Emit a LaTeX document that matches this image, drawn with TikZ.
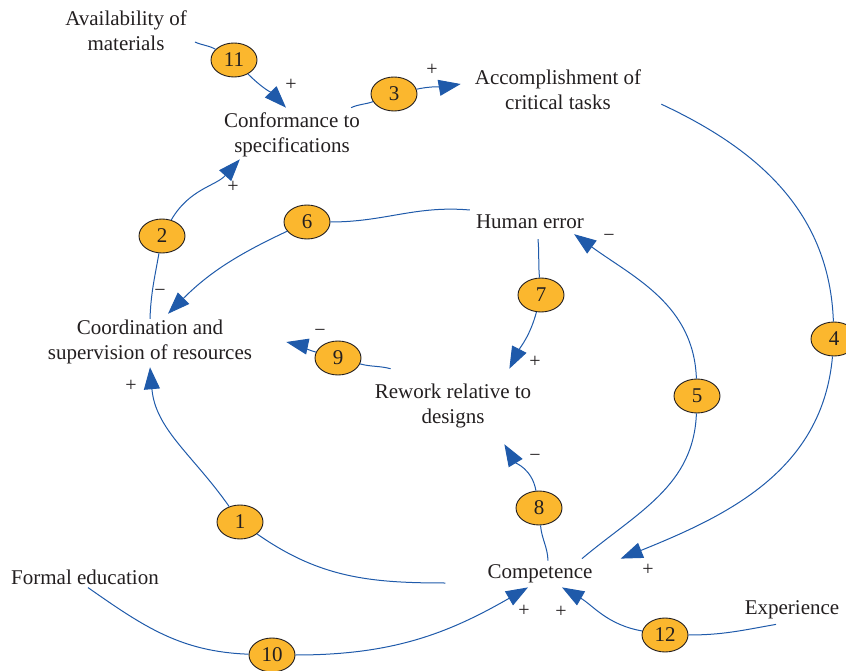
\documentclass[tikz,border=0pt]{standalone}
\usepackage{fontspec}
\setmainfont{Liberation Serif}
\usetikzlibrary{shapes.geometric, arrows.meta}
\definecolor{linkblue}{RGB}{31,90,170}
\definecolor{loopgold}{RGB}{251,183,46}
\definecolor{ink}{RGB}{35,31,32}

\begin{document}
\begin{tikzpicture}[x=1pt, y=1pt,
		v/.style={align=center, inner sep=0pt, text=ink, font=\fontsize{21}{25}\selectfont},
		n/.style={ellipse, draw=ink, line width=0.9pt, fill=loopgold, minimum width=46pt, minimum height=34pt, inner sep=0pt, text=ink, font=\fontsize{21}{25}\selectfont},
		a/.style={draw=linkblue, line width=1pt, -{Triangle[length=22pt, width=16pt]}},
		sg/.style={inner sep=0pt, text=ink, font=\fontsize{20}{20}\selectfont}]
		\useasboundingbox (0,0) rectangle (846,670);

		\node[v] (avail) at (126,639) {Availability of\\materials};
		\node[v] (conf) at (292,535) {Conformance to\\specifications};
		\node[v] (accomp) at (558,580) {Accomplishment of\\critical tasks};
		\node[v] (human) at (530,448) {Human error};
		\node[v] (coord) at (150,328) {Coordination and\\supervision of resources};
		\node[v] (rework) at (453,264) {Rework relative to\\designs};
		\node[v] (comp) at (540,96) {Competence};
		\node[v] (formal) at (85,93) {Formal education};
		\node[v] (exper) at (792,60) {Experience};

		\node[n] (l1) at (240,148) {1};
		\node[n] (l2) at (162,434) {2};
		\node[n] (l3) at (394,576) {3};
		\node[n] (l4) at (834,331) {4};
		\node[n] (l5) at (697,274) {5};
		\node[n] (l6) at (307,448) {6};
		\node[n] (l7) at (541,375) {7};
		\node[n] (l8) at (539,162) {8};
		\node[n] (l9) at (338,312) {9};
		\node[n] (l10) at (272,15) {10};
		\node[n] (l11) at (234,610) {11};
		\node[n] (l12) at (665,35) {12};

		\draw[a] ([shift={(-42,-9)}]comp.west) to[out=180, in=-35] (l1) to[out=125, in=-85] ([shift={(0,-3)}]coord.south);
		\draw[a] ([shift={(0,1)}]coord.north) to[out=88, in=-100] (l2) to[out=60, in=-132] ([shift={(16,-2)}]conf.south west);
		\draw[a] ([shift={(-9,5)}]conf.north east) to[out=25, in=-160] (l3) to[out=12, in=-170] ([shift={(-14,6)}]accomp.west);
		\draw[a] ([shift={(20,6)}]accomp.south east) to[out=-25, in=92] (l4) to[out=-95, in=22] ([shift={(28,6)}]comp.north east);
		\draw[a] ([shift={(42,6)}]comp.north) to[out=40, in=-92] (l5) to[out=92, in=-36] ([shift={(-10,-5)}]human.south east);
		\draw[a] ([shift={(-6,12)}]human.west) to[out=175, in=0] (l6) to[out=205, in=45] ([shift={(18,6)}]coord.north);
		\draw[a] ([shift={(8,-10)}]human.south) to[out=-85, in=95] (l7) to[out=-105, in=63] ([shift={(-22,15)}]rework.north east);
		\draw[a] ([shift={(8,4)}]comp.north) to[out=92, in=-85] (l8) to[out=100, in=-59] ([shift={(-27,-16)}]rework.south east);
		\draw[a] ([shift={(16,15)}]rework.north west) to[out=165, in=-15] (l9) to[out=165, in=-12] ([shift={(34,0)}]coord.east);
		\draw[a] ([shift={(3,-3)}]formal.south) to[out=-35, in=178] (l10) to[out=0, in=-150] ([shift={(-12,-4)}]comp.south);
		\draw[a] ([shift={(8,-11)}]avail.east) to[out=-25, in=150] (l11) to[out=-45, in=134] ([shift={(-6,5)}]conf.north);
		\draw[a] ([shift={(-16,-5)}]exper.south) to[out=190, in=0] (l12) to[out=170, in=-30] ([shift={(22,-4)}]comp.south);

		\node[sg] (s1) at (131,284) {+};
		\node[sg] (s2) at (233,483) {+};
		\node[sg] (s3) at (432,600) {+};
		\node[sg] (s4) at (648,100) {+};
		\node[sg] (s5) at (609,432) {−};
		\node[sg] (s6) at (160,377) {−};
		\node[sg] (s7) at (535,308) {+};
		\node[sg] (s8) at (535,212) {−};
		\node[sg] (s9) at (320,337) {−};
		\node[sg] (s10) at (524,59) {+};
		\node[sg] (s11) at (291,585) {+};
		\node[sg] (s12) at (561,58) {+};
	\end{tikzpicture}
\end{document}
